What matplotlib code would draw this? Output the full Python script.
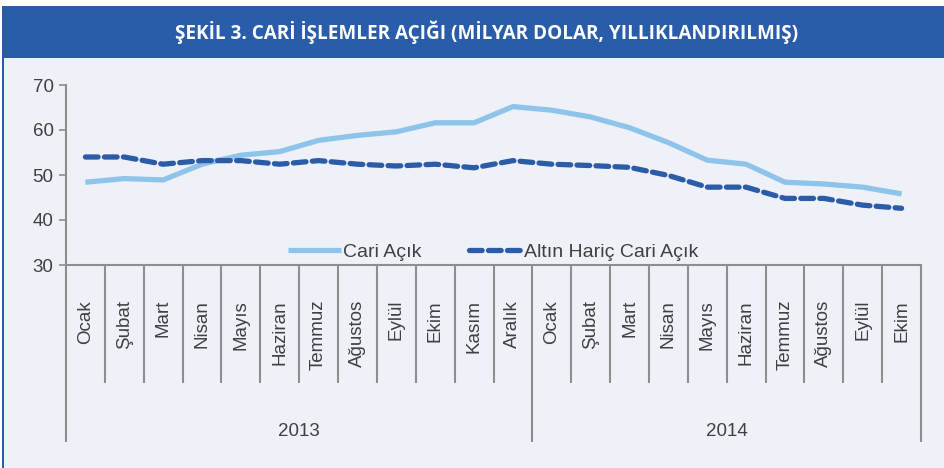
import numpy as np
import matplotlib
matplotlib.use("Agg")
import matplotlib.pyplot as plt
import matplotlib.transforms as mtransforms
from matplotlib.patches import Rectangle

months = ["Ocak", "Şubat", "Mart", "Nisan", "Mayıs", "Haziran", "Temmuz",
          "Ağustos", "Eylül", "Ekim", "Kasım", "Aralık",
          "Ocak", "Şubat", "Mart", "Nisan", "Mayıs", "Haziran", "Temmuz",
          "Ağustos", "Eylül", "Ekim"]
years = ["2013", "2014"]
year_counts = [12, 10]

cari_acik = [48.4, 49.2, 48.9, 52.4, 54.4, 55.2, 57.7, 58.8, 59.6, 61.6, 61.6, 65.2,
             64.4, 62.9, 60.5, 57.2, 53.3, 52.4, 48.4, 48.0, 47.3, 45.8]
altin_haric = [54.0, 54.0, 52.4, 53.2, 53.2, 52.4, 53.2, 52.4, 52.0, 52.4, 51.6, 53.2,
               52.4, 52.1, 51.7, 49.9, 47.3, 47.3, 44.8, 44.8, 43.3, 42.6]

COLORS = {
    "header": "#295DA9",
    "bg":     "#EFF1F9",
    "light":  "#8EC4EA",
    "dark":   "#2A5CA8",
    "axis":   "#8E8E8E",
    "text":   "#404040",
}
FONT = ["Liberation Sans", "DejaVu Sans"]

W, H = 944, 468
fig = plt.figure(figsize=(W / 100, H / 100), dpi=100)
fig.patch.set_facecolor("white")

# panel background + header band
fig.add_artist(Rectangle((2 / W, 0), 1, 1 - 58 / H, transform=fig.transFigure,
                         facecolor=COLORS["bg"], edgecolor="none", zorder=0))
fig.add_artist(Rectangle((2 / W, 0), 2 / W, 1 - 58 / H, transform=fig.transFigure,
                         facecolor=COLORS["header"], edgecolor="none", zorder=0))
fig.add_artist(Rectangle((2 / W, 1 - 58 / H), 1, 52 / H, transform=fig.transFigure,
                         facecolor=COLORS["header"], edgecolor="none", zorder=0))
fig.text(487 / W, 1 - 32 / H, "ŞEKİL 3. CARİ İŞLEMLER AÇIĞI (MİLYAR DOLAR, YILLIKLANDIRILMIŞ)",
         ha="center", va="center", color="white", fontsize=13.6, fontweight="bold",
         family=["Open Sans", "DejaVu Sans"])

x0, x1, ytop, ybot = 66, 921, 85, 265
ax = fig.add_axes([x0 / W, 1 - ybot / H, (x1 - x0) / W, (ybot - ytop) / H])
ax.set_facecolor("none")

x = np.arange(len(months))
ax.plot(x, cari_acik, color=COLORS["light"], lw=3.8, solid_capstyle="butt",
        solid_joinstyle="round", label="Cari Açık", zorder=3)
ax.plot(x, altin_haric, color=COLORS["dark"], lw=3.8, linestyle=(0, (2.4, 1.2)),
        dash_capstyle="round", label="Altın Hariç Cari Açık", zorder=4)

ax.set_xlim(-0.5, len(months) - 0.5)
ax.set_ylim(30, 70)
ax.set_yticks([30, 40, 50, 60, 70])
ax.tick_params(axis="y", colors=COLORS["axis"], labelcolor=COLORS["text"],
               labelsize=13.5, length=5, width=1.2, pad=4)
ax.set_xticks([])
for s in ["top", "right"]:
    ax.spines[s].set_visible(False)
for s in ["left", "bottom"]:
    ax.spines[s].set_color(COLORS["axis"])
    ax.spines[s].set_linewidth(1.5)

# category axis: month dividers, month labels, year dividers, year labels
trans = mtransforms.blended_transform_factory(ax.transData, ax.transAxes)
month_bottom = -(383 - ybot) / (ybot - ytop)
year_bottom = -(442 - ybot) / (ybot - ytop)
year_edges = np.concatenate([[0], np.cumsum(year_counts)]) - 0.5
for b in np.arange(len(months) + 1) - 0.5:
    yb = year_bottom if b in year_edges else month_bottom
    ax.plot([b, b], [0, yb], color=COLORS["axis"], lw=1.5, transform=trans,
            clip_on=False, solid_capstyle="butt")
for i, m in enumerate(months):
    ax.text(i, -35 / (ybot - ytop), m, rotation=90, ha="center", va="top",
            fontsize=13.5, color=COLORS["text"], transform=trans, family=FONT)
for j, yr in enumerate(years):
    ax.text((year_edges[j] + year_edges[j + 1]) / 2, -(432 - ybot) / (ybot - ytop), yr,
            ha="center", va="center", fontsize=13.5, color=COLORS["text"],
            transform=trans, family=FONT)

for lab in ax.get_yticklabels():
    lab.set_family(FONT)

leg = ax.legend(loc="lower center", bbox_to_anchor=(0.5, -0.075), ncol=2, frameon=False,
                handlelength=2.7, handletextpad=0.12, columnspacing=2.45,
                prop={"family": FONT, "size": 14})
for t in leg.get_texts():
    t.set_color(COLORS["text"])

fig.savefig("out.png", dpi=100, facecolor=fig.get_facecolor())
